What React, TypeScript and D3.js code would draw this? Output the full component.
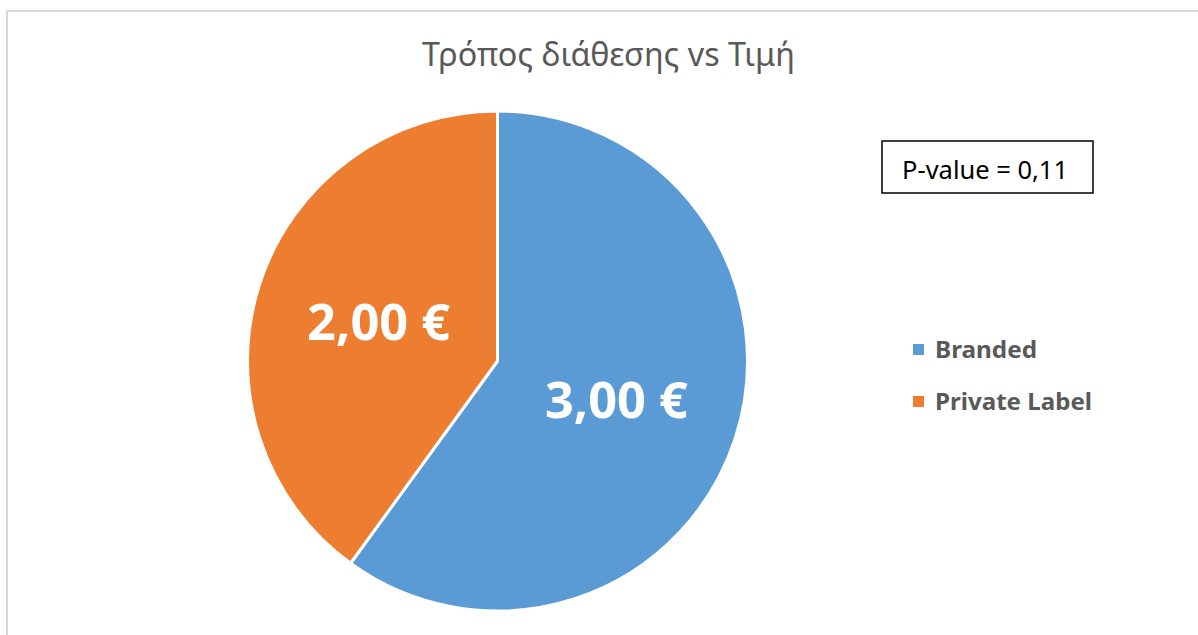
import React from "react";
import * as d3 from "d3";

const categories = ["Branded", "Private Label"];
const values = [3.0, 2.0];
const valueLabels = ["3,00 €", "2,00 €"];
const colors = ["#5B9BD5", "#ED7D31"];
const title = "Τρόπος διάθεσης vs Τιμή";
const annotation = "P-value = 0,11";

const W = 1198;
const H = 635;
const FONT = "'Noto Sans', 'Open Sans', sans-serif";

export default function App() {
  const cx = 497.5;
  const cy = 361;
  const r = 250;
  const pie = d3.pie<number>().sort(null).value((d) => d);
  const arcs = pie(values);
  const arcGen = d3.arc<d3.PieArcDatum<number>>().innerRadius(0).outerRadius(r);
  const labelArc = d3.arc<d3.PieArcDatum<number>>().innerRadius(r * 0.5).outerRadius(r * 0.5);

  return (
    <svg
      width={W}
      height={H}
      style={{ position: "absolute", left: 0, top: 0, display: "block", background: "#fff" }}
    >
      {/* chart border (clipped at right / bottom) */}
      <line x1={7} y1={11} x2={W} y2={11} stroke="#d9d9d9" strokeWidth={2} />
      <line x1={7} y1={10} x2={7} y2={H} stroke="#d9d9d9" strokeWidth={2} />

      <text
        x={608.5}
        y={66}
        textAnchor="middle"
        fontFamily={FONT}
        fontSize={32}
        fill="#595959"
        textLength={373}
        lengthAdjust="spacingAndGlyphs"
      >
        {title}
      </text>

      <g transform={`translate(${cx},${cy})`}>
        {arcs.map((a, i) => (
          <path key={i} d={arcGen(a) || ""} fill={colors[i]} stroke="#fff" strokeWidth={3} strokeLinejoin="round" />
        ))}
        {arcs.map((a, i) => {
          const [lx, ly] = labelArc.centroid(a);
          return (
            <text
              key={"l" + i}
              x={lx}
              y={ly + 18}
              textAnchor="middle"
              fontFamily={FONT}
              fontWeight="bold"
              fontSize={51}
              fill="#fff"
              textLength={143}
              lengthAdjust="spacingAndGlyphs"
            >
              {valueLabels[i]}
            </text>
          );
        })}
      </g>

      {/* P-value box */}
      <rect x={882} y={141} width={211} height={52} fill="#fff" stroke="#000" strokeWidth={1.5} />
      <text
        x={985}
        y={179}
        textAnchor="middle"
        fontFamily={FONT}
        fontSize={26}
        fill="#000"
        textLength={166}
        lengthAdjust="spacingAndGlyphs"
      >
        {annotation}
      </text>

      {/* legend */}
      {categories.map((c, i) => (
        <g key={c} transform={`translate(913,${344 + i * 52})`}>
          <rect x={0} y={0} width={11} height={11} fill={colors[i]} />
          <text
            x={22}
            y={13.5}
            fontFamily={FONT}
            fontWeight="bold"
            fontSize={23}
            fill="#595959"
            textLength={i === 0 ? 102 : 157}
            lengthAdjust="spacingAndGlyphs"
          >
            {c}
          </text>
        </g>
      ))}
    </svg>
  );
}
